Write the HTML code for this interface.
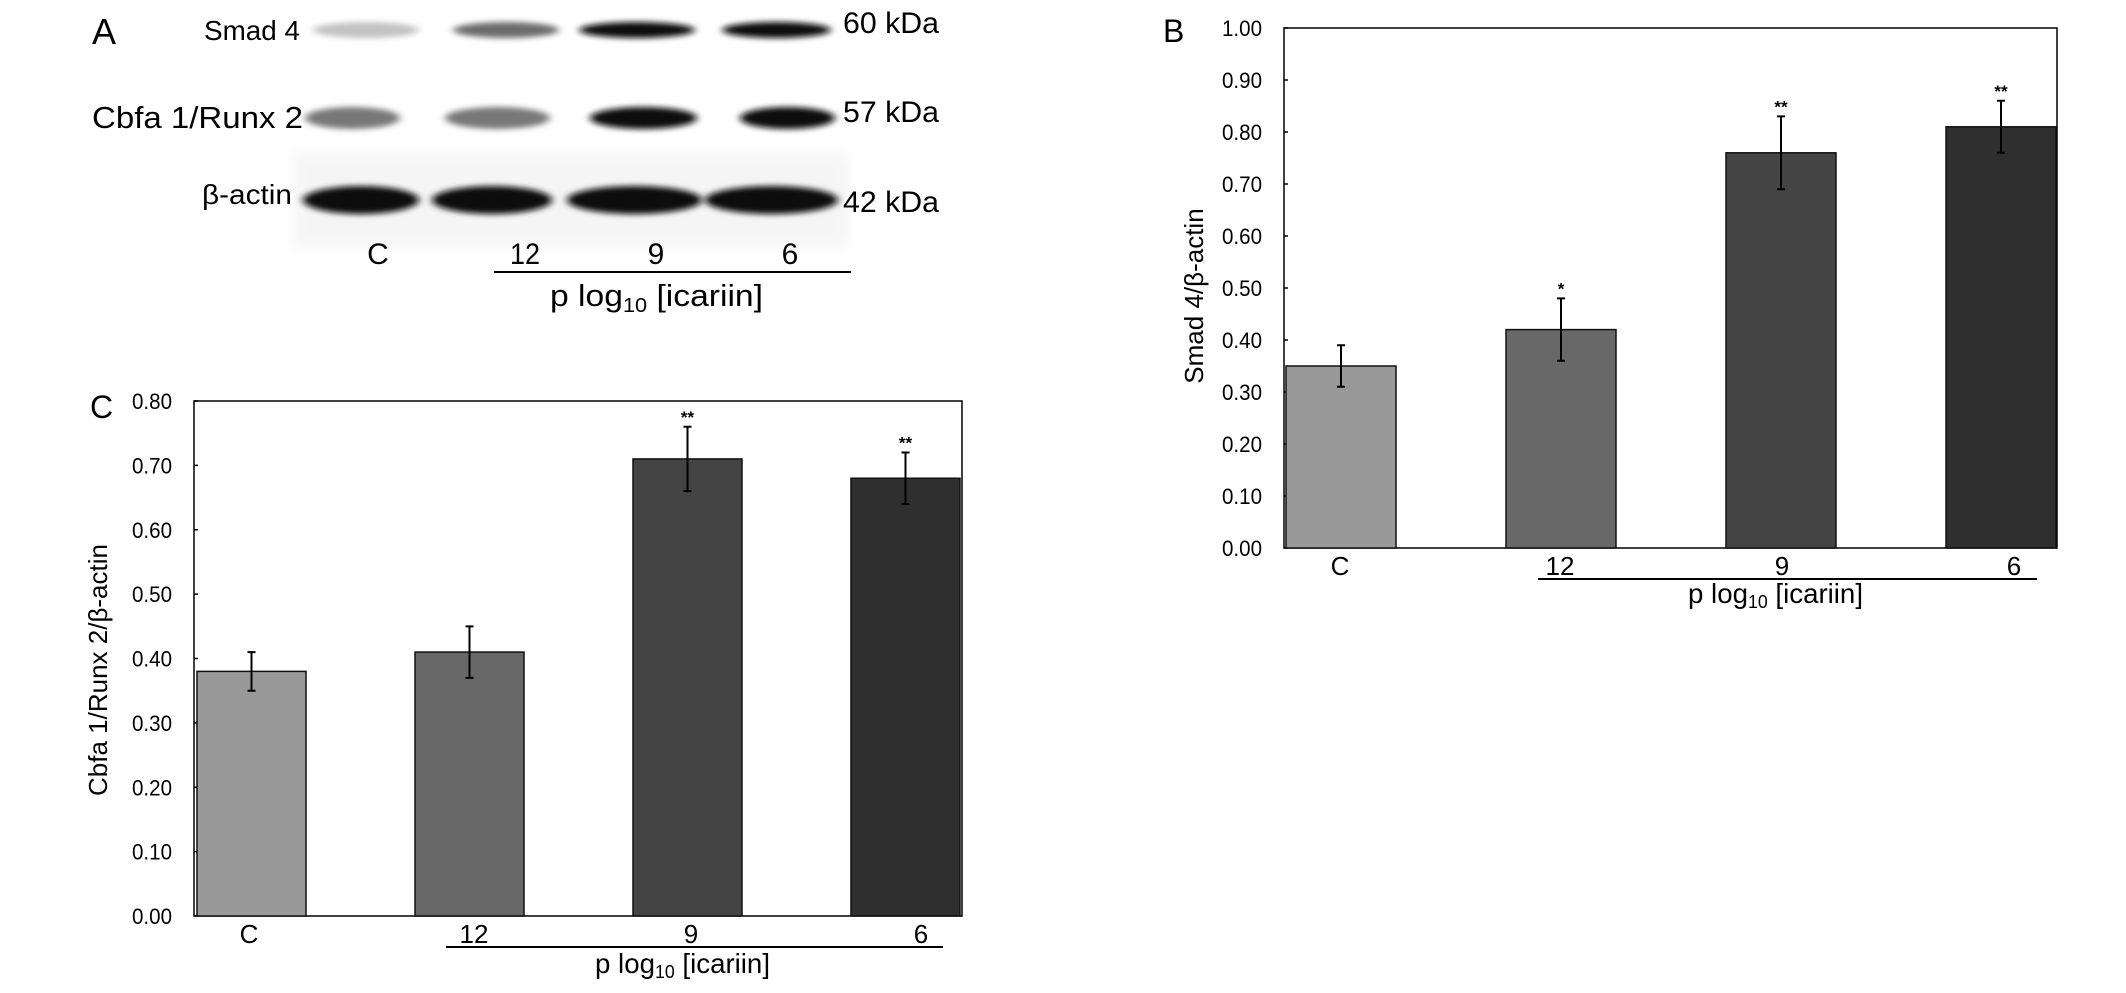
<!DOCTYPE html>
<html><head><meta charset="utf-8">
<style>
html,body{margin:0;padding:0;background:#fff;width:2126px;height:993px;overflow:hidden}
svg text{font-family:"Liberation Sans Narrow","Liberation Sans",sans-serif}
</style></head>
<body>
<svg id="fig" width="2126" height="993" viewBox="0 0 2126 993" xmlns="http://www.w3.org/2000/svg">
<defs>
<filter id="blur" x="-20%" y="-80%" width="140%" height="260%"><feGaussianBlur stdDeviation="4 3"/></filter>
<filter id="blur2"><feGaussianBlur stdDeviation="6"/></filter>
</defs>
<g id="panelA">
<rect x="293" y="153" width="555" height="94" fill="#f5f5f5" filter="url(#blur2)"/>
<text x="92" y="44" font-size="36" font-family="Liberation Sans,sans-serif">A</text>
<text x="204" y="40" font-size="28" textLength="96" lengthAdjust="spacingAndGlyphs">Smad 4</text>
<text x="92" y="128" font-size="31" textLength="211" lengthAdjust="spacingAndGlyphs">Cbfa 1/Runx 2</text>
<text x="202" y="204" font-size="28" textLength="90" lengthAdjust="spacingAndGlyphs">β-actin</text>
<text x="843" y="33" font-size="30" textLength="96" lengthAdjust="spacingAndGlyphs">60 kDa</text>
<text x="843" y="122" font-size="30" textLength="96" lengthAdjust="spacingAndGlyphs">57 kDa</text>
<text x="843" y="212" font-size="30" textLength="96" lengthAdjust="spacingAndGlyphs">42 kDa</text>
<g id="bands"></g>
<text x="378" y="264" font-size="30" text-anchor="middle">C</text>
<text x="525" y="264" font-size="30" text-anchor="middle" textLength="30" lengthAdjust="spacingAndGlyphs">12</text>
<text x="656" y="264" font-size="30" text-anchor="middle">9</text>
<text x="790" y="264" font-size="30" text-anchor="middle">6</text>
<line x1="494" y1="272" x2="851" y2="272" stroke="#000" stroke-width="2"/>
<text x="550" y="306" font-size="31" textLength="213" lengthAdjust="spacingAndGlyphs">p log<tspan font-size="20" dy="6">10</tspan><tspan dy="-6"> [icariin]</tspan></text>
</g>
<g id="chartB"></g>
<g id="chartC"></g>
</svg>
<script>
const categories = ["C","12","9","6"];
const smadValues = [0.35,0.42,0.76,0.81];
const smadErrLow = [0.31,0.36,0.69,0.76];
const smadErrHigh = [0.39,0.48,0.83,0.86];
const smadStars = ["","*","**","**"];
const smadTicks = ["0.00","0.10","0.20","0.30","0.40","0.50","0.60","0.70","0.80","0.90","1.00"];
const cbfaValues = [0.38,0.41,0.71,0.68];
const cbfaErrLow = [0.35,0.37,0.66,0.64];
const cbfaErrHigh = [0.41,0.45,0.76,0.72];
const cbfaStars = ["","","**","**"];
const cbfaTicks = ["0.00","0.10","0.20","0.30","0.40","0.50","0.60","0.70","0.80"];
const barColors = ["#999999","#686868","#444444","#2f2f2f"];
const smadBand = [0.25,0.6,1,1];
const cbfaBand = [0.55,0.55,1,1];
const actinBand = [1,1,1,1];

const NS="http://www.w3.org/2000/svg";
function mk(p,tag,attrs,txt){const e=document.createElementNS(NS,tag);for(const k in attrs)e.setAttribute(k,attrs[k]);if(txt!==undefined)e.textContent=txt;p.appendChild(e);return e;}

const bandsG=document.getElementById('bands');
const rows=[
 {vals:smadBand,y:30,h:16,lanes:[[313,419],[453,559],[579,695],[722,831]],name:'smad4-band'},
 {vals:cbfaBand,y:118,h:22,lanes:[[305,400],[445,550],[590,697],[740,835]],name:'cbfa1-band'},
 {vals:actinBand,y:200,h:28,lanes:[[303,419],[432,552],[567,702],[705,838]],name:'actin-band'}];
rows.forEach(r=>{r.vals.forEach((v,i)=>{const [a,b]=r.lanes[i];
 const g=Math.round(255-v*245);
 const e=mk(bandsG,'ellipse',{cx:(a+b)/2,cy:r.y,rx:(b-a)/2,ry:r.h/2,fill:`rgb(${g},${g},${g})`,filter:'url(#blur)'});
 
 
});});

function chart(id,cfg){
 const g=document.getElementById(id);
 const {left,right,top,bottom,ymax,vals,lo,hi,stars,ticks,firstBar,step,barW}=cfg;
 const y=v=>bottom-(v/ymax)*(bottom-top);
 const x=i=>firstBar+i*step;
 const frame=mk(g,'rect',{x:left,y:top,width:right-left,height:bottom-top,fill:'none',stroke:'#000','stroke-width':1.5});
 
 
 ticks.forEach(t=>{const v=parseFloat(t);
  const tl=mk(g,'line',{x1:left,x2:left+4,y1:y(v),y2:y(v),stroke:'#000','stroke-width':1.5});
  
  
  const tx=mk(g,'text',{x:left-62,y:y(v)+8,'font-size':22,textLength:40,lengthAdjust:'spacingAndGlyphs'},t);
  
  
 });
 vals.forEach((v,i)=>{
  const b=mk(g,'rect',{x:x(i),y:y(v),width:barW,height:bottom-y(v),fill:barColors[i],stroke:'#111','stroke-width':1.5});
  
  
  const cx=x(i)+barW/2;
  const eb=mk(g,'path',{d:`M${cx},${y(lo[i])}V${y(hi[i])}M${cx-4},${y(lo[i])}H${cx+4}M${cx-4},${y(hi[i])}H${cx+4}`,stroke:'#000','stroke-width':2,fill:'none'});
  
  
  if(stars[i]){const s=mk(g,'text',{x:cx,y:y(hi[i])-4,'font-size':17,'text-anchor':'middle','font-weight':'bold'},stars[i]);
   
   }
 });
 cfg.xlabels.forEach((px,i)=>{const t=mk(g,'text',{x:px,y:cfg.labY,'font-size':26,'text-anchor':'middle'},categories[i]);
  
  });
 const ln=mk(g,'line',{x1:cfg.lineX1,x2:cfg.lineX2,y1:cfg.lineY,y2:cfg.lineY,stroke:'#000','stroke-width':2});
 
 
 const tt=mk(g,'text',{x:cfg.titleX-87,y:cfg.titleY,'font-size':28,textLength:175,lengthAdjust:'spacingAndGlyphs'});
 
 
 tt.innerHTML='p log<tspan font-size="18" dy="5">10</tspan><tspan dy="-5"> [icariin]</tspan>';
 const yt=mk(g,'text',{x:0,y:0,'font-size':cfg.ytSize,'text-anchor':'middle','font-family':'Liberation Sans,sans-serif',transform:`translate(${cfg.ytX},${cfg.ytY}) rotate(-90)`},cfg.yTitle);
 
 
 const pl=mk(g,'text',{x:cfg.plX,y:cfg.plY,'font-size':32,'font-family':'Liberation Sans,sans-serif'},cfg.panel);
 
 
}
chart('chartB',{left:1284,right:2057,top:28,bottom:548,ymax:1.0,vals:smadValues,lo:smadErrLow,hi:smadErrHigh,stars:smadStars,ticks:smadTicks,
 firstBar:1286,step:220,barW:110,xlabels:[1340,1560,1782,2014],labY:575,lineX1:1538,lineX2:2037,lineY:579,
 titleX:1775,titleY:603,yTitle:'Smad 4/β-actin',ytSize:26,ytX:1203,ytY:296,panel:'B',plX:1163,plY:42});
chart('chartC',{left:194,right:962,top:401,bottom:916,ymax:0.8,vals:cbfaValues,lo:cbfaErrLow,hi:cbfaErrHigh,stars:cbfaStars,ticks:cbfaTicks,
 firstBar:197,step:218,barW:109,xlabels:[249,474,691,921],labY:943,lineX1:446,lineX2:943,lineY:947,
 titleX:682,titleY:973,yTitle:'Cbfa 1/Runx 2/β-actin',ytSize:26,ytX:107,ytY:670,panel:'C',plX:90,plY:418});
</script>
</body></html>
